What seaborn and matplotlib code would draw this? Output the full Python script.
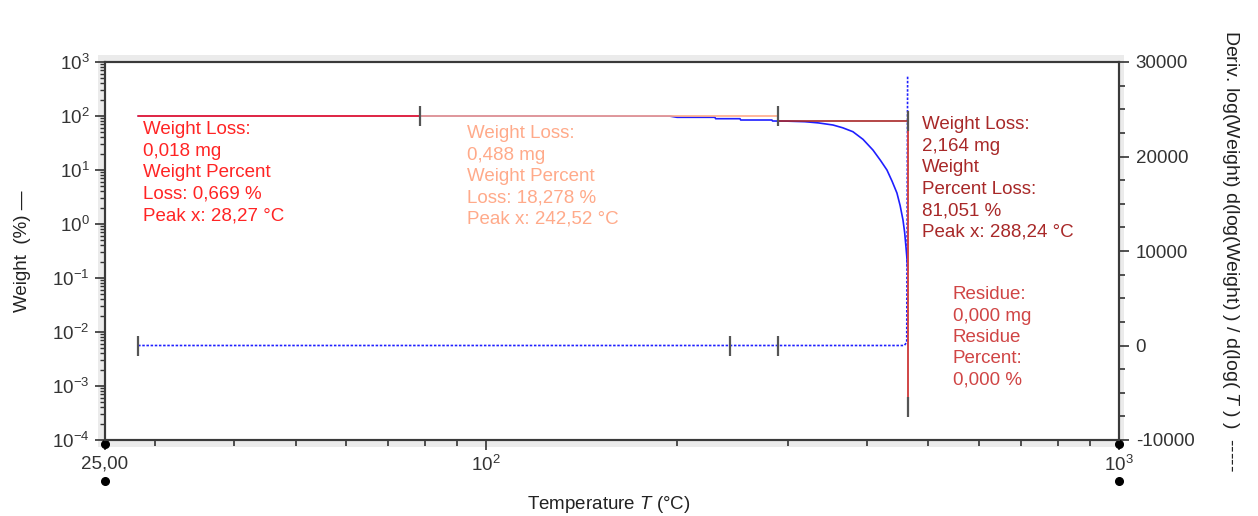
import matplotlib
matplotlib.use("Agg")
import matplotlib.pyplot as plt
import matplotlib.ticker as mticker
import matplotlib.transforms as mtrans
from matplotlib.patches import Rectangle
import seaborn as sns

# TGA weight curve: temperature (°C) and weight (%)
temp_w = [28.2, 120.0, 195.0, 200.3, 229.9, 230.5, 251.9, 252.5, 282.9, 283.5,
          289.2, 300.0, 319.0, 335.0, 353.3, 366.0, 379.8, 394.0, 408.6, 420.0,
          429.9, 438.0, 445.8, 451.0, 455.7, 458.5, 460.7, 462.5, 463.5]
weight = [100.0, 100.0, 99.6, 94.6, 94.6, 89.1, 89.1, 84.3, 84.3, 80.8,
          80.6, 80.2, 78.4, 74.5, 68.1, 60.5, 51.2, 37.0, 23.4, 15.0,
          10.0, 6.2, 3.75, 2.2, 1.19, 0.7, 0.375, 0.22, 0.153]

# derivative curve d(log W)/d(log T)
temp_d = [28.2, 458.0, 462.0, 463.5]
deriv = [0.0, 0.0, 350.0, 28600.0]

# step analysis
step_edges = [28.2, 78.6, 289.2, 463.5]
step_levels = [100.0, 100.0, 80.8]
residue_low = 6.2e-4
residue_mark = 4.1e-4
peak_temps = [28.2, 242.8, 289.2]

step_texts = [
    "Weight Loss:\n0,018 mg\nWeight Percent\nLoss: 0,669 %\nPeak x: 28,27 °C",
    "Weight Loss:\n0,488 mg\nWeight Percent\nLoss: 18,278 %\nPeak x: 242,52 °C",
    "Weight Loss:\n2,164 mg\nWeight\nPercent Loss:\n81,051 %\nPeak x: 288,24 °C",
]
residue_text = "Residue:\n0,000 mg\nResidue\nPercent:\n0,000 %"

x_limits = [25, 1000]
y_limits = [1e-4, 1e3]
d_limits = [-10000, 30000]

step_colors = ["#ff2424", "#ffaa8a", "#a82828"]
residue_color = "#d04545"
curve_color = "#1f1fff"
mark_color = "#555555"

sns.set_theme(style="ticks")
plt.rcParams["font.family"] = ["Liberation Sans", "DejaVu Sans"]
plt.rcParams["mathtext.fontset"] = "custom"
plt.rcParams["mathtext.rm"] = "Liberation Sans"
plt.rcParams["mathtext.it"] = "Liberation Sans:italic"
plt.rcParams["axes.unicode_minus"] = False
fs = 13.5

fig = plt.figure(figsize=(12.58, 5.16), dpi=100)
ax = fig.add_axes([105 / 1258, 1 - 440 / 516, 1014 / 1258, 378 / 516])
ax2 = ax.twinx()

# grey shadow frame around plot area
fig.patches.append(Rectangle((98 / 1258, 1 - 447 / 516), 1026 / 1258, 392 / 516,
                             transform=fig.transFigure, facecolor="#ebebeb",
                             edgecolor="none", zorder=-1))

ax.set_xscale("log")
ax.set_yscale("log")
ax.set_xlim(x_limits)
ax.set_ylim(y_limits)
ax2.set_ylim(d_limits)

ax.set_zorder(2)
ax2.set_zorder(1)
ax.patch.set_visible(False)
ax2.patch.set_visible(True)
ax2.patch.set_facecolor("white")

# derivative curve
sns.lineplot(x=temp_d, y=deriv, ax=ax2, color=curve_color, lw=1.2,
             linestyle=(0, (1.5, 1)), sort=False, estimator=None)
ax2.plot(peak_temps, [0] * len(peak_temps), ls="none", marker="|", ms=15,
         mew=1.6, color=mark_color)

# weight curve
sns.lineplot(x=temp_w, y=weight, ax=ax, color=curve_color, lw=1.2,
             sort=False, estimator=None)

# step lines
for i in range(3):
    ax.plot(step_edges[i:i + 2], [step_levels[i]] * 2, color=step_colors[i], lw=1.2)
ax.plot([step_edges[3]] * 2, [step_levels[2], residue_low], color=residue_color, lw=1.4)
ax.plot(step_edges[1:], step_levels, ls="none", marker="|", ms=15, mew=1.6,
        color=mark_color)
ax.plot([step_edges[3]], [residue_mark], ls="none", marker="|", ms=15, mew=1.6,
        color=mark_color)

# annotations
text_pos = [(0.0375, 0.843), (0.357, 0.833), (0.806, 0.856)]
for (tx, ty), s, c in zip(text_pos, step_texts, step_colors):
    ax.text(tx, ty, s, transform=ax.transAxes, color=c, fontsize=fs,
            va="top", ha="left", linespacing=1.34)
ax.text(0.836, 0.407, residue_text, transform=ax.transAxes, color=residue_color,
        fontsize=fs, va="top", ha="left", linespacing=1.34)

# x axis
ax.xaxis.set_major_locator(mticker.FixedLocator([25, 100, 1000]))
ax.xaxis.set_major_formatter(mticker.FixedFormatter(
    ["25,00", r"$\mathdefault{10^{2}}$", r"$\mathdefault{10^{3}}$"]))
ax.xaxis.set_minor_locator(mticker.LogLocator(base=10, subs=range(2, 10)))
ax.xaxis.set_minor_formatter(mticker.NullFormatter())
ax.tick_params(axis="x", which="major", direction="out", length=7, width=1.2,
               labelsize=fs, pad=4, colors="#333333")
ax.tick_params(axis="x", which="minor", direction="out", length=4, width=1.2,
               colors="#333333")

# left y axis
ax.yaxis.set_major_locator(mticker.LogLocator(base=10, numticks=10))
ax.yaxis.set_minor_locator(mticker.LogLocator(base=10, subs=range(2, 10), numticks=20))
ax.yaxis.set_minor_formatter(mticker.NullFormatter())
ax.tick_params(axis="y", which="major", direction="out", length=7, width=1.2,
               labelsize=fs, pad=4, colors="#333333")
ax.tick_params(axis="y", which="minor", direction="out", length=3.5, width=1.0,
               colors="#333333")

# right y axis
ax2.yaxis.set_major_locator(mticker.MultipleLocator(10000))
ax2.yaxis.set_minor_locator(mticker.MultipleLocator(2500))
ax2.yaxis.set_major_formatter(mticker.StrMethodFormatter("{x:.0f}"))
ax2.tick_params(axis="y", which="major", direction="out", length=7, width=1.2,
                labelsize=fs, pad=5, colors="#333333")
ax2.tick_params(axis="y", which="minor", direction="out", length=4, width=1.2,
                colors="#333333")

for a in (ax, ax2):
    for sp in a.spines.values():
        sp.set_visible(True)
        sp.set_color("#3a3a3a")
        sp.set_linewidth(1.5)

# labels
ax.set_xlabel(r"Temperature $T$ (°C)", fontsize=fs, color="#222222")
ax.xaxis.set_label_coords(0.497, -0.143)
ax.set_ylabel("Weight  (%) —", fontsize=fs, color="#222222")
ax.yaxis.set_label_coords(-0.073, 0.5)
ax2.set_ylabel(r"Deriv. log(Weight) d(log(Weight) ) / d(log( $T$ ) )  -----",
               fontsize=14, color="#222222", rotation=270, va="bottom")
ax2.yaxis.set_label_coords(1.100, 0.5)

# axis end dots
trans = mtrans.blended_transform_factory(ax.transData, ax.transAxes)
ax.plot([x_limits[0]] * 2 + [x_limits[1]] * 2, [-0.011, -0.108] * 2, ls="none",
        marker="o", ms=5.5, color="black", transform=trans, clip_on=False)

fig.savefig("out.png", dpi=100)
